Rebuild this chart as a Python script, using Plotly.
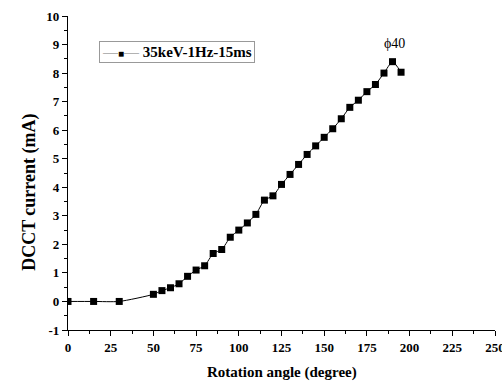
import plotly.graph_objects as go

# Rotation angle (degree) and measured DCCT current (mA)
angle = [0, 15, 30, 50, 55, 60, 65, 70, 75, 80, 85, 90, 95, 100, 105, 110, 115,
         120, 125, 130, 135, 140, 145, 150, 155, 160, 165, 170, 175, 180, 185, 190, 195]
current = [0.0, 0.0, 0.0, 0.25, 0.38, 0.48, 0.62, 0.88, 1.1, 1.25, 1.68, 1.82, 2.25,
           2.5, 2.75, 3.05, 3.55, 3.7, 4.1, 4.45, 4.8, 5.15, 5.45, 5.75, 6.05, 6.4,
           6.8, 7.05, 7.35, 7.6, 8.0, 8.4, 8.03]
series_name = "35keV-1Hz-15ms"
peak_label = "ϕ40"
x_ticks = [0, 25, 50, 75, 100, 125, 150, 175, 200, 225, 250]
y_ticks = [-1, 0, 1, 2, 3, 4, 5, 6, 7, 8, 9, 10]

font_family = "Liberation Serif"

fig = go.Figure()
fig.add_trace(go.Scatter(
    x=angle, y=current, name=series_name,
    mode="lines+markers",
    line=dict(color="black", width=1, shape="spline", smoothing=0.6),
    marker=dict(symbol="square", size=7, color="black"),
    showlegend=False,
))

peak_i = current.index(max(current))
fig.add_annotation(x=angle[peak_i], y=current[peak_i], text=peak_label,
                   showarrow=False, yshift=18, xshift=2,
                   font=dict(family=font_family, size=14, color="black"))

axis_common = dict(
    showline=True, linecolor="black", linewidth=1.2,
    ticks="outside", ticklen=5, tickwidth=1.2, tickcolor="black",
    showgrid=False, zeroline=False, ticklabeloverflow="allow", automargin=False,
    tickfont=dict(family=font_family, size=13, color="black"),
    minor=dict(ticks="outside", ticklen=3, tickwidth=1, tickcolor="black"),
)

fig.update_xaxes(range=[0, 250.001], tickvals=x_ticks,
                 ticktext=[f"<b>{v}</b>" for v in x_ticks], **axis_common)
fig.update_xaxes(minor_dtick=12.5)
fig.update_yaxes(range=[-1, 10], tickvals=y_ticks,
                 ticktext=[f"<b>{v}</b>" for v in y_ticks], **axis_common)
fig.update_yaxes(minor_dtick=0.5)

# axis titles
fig.add_annotation(xref="paper", yref="paper", x=0.5, y=-0.135,
                   text="<b>Rotation angle (degree)</b>",
                   showarrow=False, xanchor="center", yanchor="middle",
                   font=dict(family=font_family, size=15, color="black"))
fig.add_annotation(xref="paper", yref="paper", x=-0.089, y=0.44,
                   text="<b>DCCT current (mA)</b>", textangle=-90,
                   showarrow=False, xanchor="center", yanchor="middle",
                   font=dict(family=font_family, size=18, color="black"))

# legend box: line-and-square key followed by the series name
fig.add_annotation(xref="paper", yref="paper", x=0.0726, y=0.885,
                   text=("<span style='color:#777777'>—</span>"
                         "<span style='font-size:10px'>■</span>"
                         "<span style='color:#777777'>—</span>"
                         f" <b>{series_name}</b>"),
                   showarrow=False, xanchor="left", yanchor="middle",
                   bordercolor="#999999", borderwidth=1, borderpad=2,
                   bgcolor="white",
                   font=dict(family=font_family, size=15, color="black"))

fig.update_layout(
    width=502, height=382,
    margin=dict(l=68, r=7, t=16, b=52),
    plot_bgcolor="white", paper_bgcolor="white",
    showlegend=False,
)

fig.write_html("out.html")
